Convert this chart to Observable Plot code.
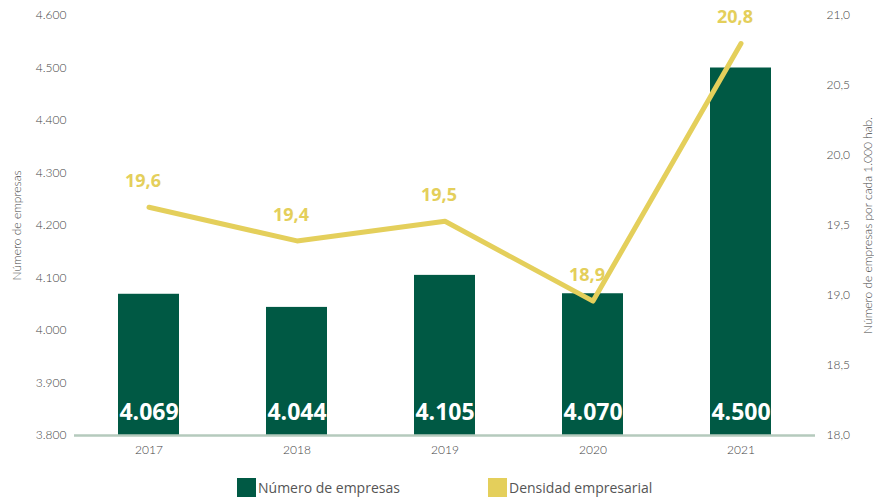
<!DOCTYPE html>
<html>
<head>
<meta charset="utf-8">
<script src="https://cdn.jsdelivr.net/npm/d3@7"></script>
<script src="https://cdn.jsdelivr.net/npm/@observablehq/plot@0.6"></script>
<style>
  html, body { margin: 0; padding: 0; background: #fff; }
  #wrap { position: relative; width: 874px; height: 498px; }
  .legend { position: absolute; top: 478px; left: 0; width: 874px; height: 20px; font-family: "Open Sans", sans-serif; font-size: 14px; color: #555; }
  .item { position: absolute; display: flex; align-items: center; }
  .sw { width: 19px; height: 19px; margin-right: 2px; }
</style>
</head>
<body>
<div id="wrap">
  <div id="chart"></div>
  <div class="legend">
    <div class="item" style="left:237px; top:0px"><div class="sw" style="background:#005944"></div><span>Número de empresas</span></div>
    <div class="item" style="left:488px; top:0px"><div class="sw" style="background:#e4cf5b"></div><span>Densidad empresarial</span></div>
  </div>
</div>
<script>
const years = ["2017", "2018", "2019", "2020", "2021"];
const empresas = [4069, 4044, 4105, 4070, 4500];
const empresasLabels = ["4.069", "4.044", "4.105", "4.070", "4.500"];
const densidad = [19.63, 19.39, 19.53, 18.96, 20.8];
const densidadLabels = ["19,6", "19,4", "19,5", "18,9", "20,8"];
const leftTicks = [3800, 3900, 4000, 4100, 4200, 4300, 4400, 4500, 4600];
const rightTicks = [18.0, 18.5, 19.0, 19.5, 20.0, 20.5, 21.0];

const toLeft = d3.scaleLinear([18, 21], [3800, 4600]);
const data = years.map((y, i) => ({
  year: y, empresas: empresas[i], elabel: empresasLabels[i],
  dens: toLeft(densidad[i]), dlabel: densidadLabels[i]
}));

const fmtLeft = d => d3.format(",")(d).replace(/,/g, ".");
const fmtRight = d => d3.format(".1f")(toLeft.invert(d)).replace(".", ",");

const FONT = "Lato, 'Open Sans', sans-serif";

const chart = Plot.plot({
  width: 874,
  height: 462,
  marginTop: 15,
  marginBottom: 27,
  marginLeft: 74,
  marginRight: 59,
  style: { fontFamily: FONT, fontSize: "12px", color: "#555", background: "#fff" },
  x: { domain: years, paddingInner: 0.589, paddingOuter: 0.2945, axis: null },
  y: { domain: [3800, 4600], axis: null },
  marks: [
    Plot.barY(data, { x: "year", y1: 3800, y2: "empresas", fill: "#005944" }),
    Plot.ruleY([3800], { stroke: "#b5cabd", strokeWidth: 2.5 }),
    Plot.line(data, { x: "year", y: "dens", stroke: "#e4cf5b", strokeWidth: 5, strokeLinecap: "round", strokeLinejoin: "round" }),
    Plot.text(data, { x: "year", y: 3800, text: "elabel", dy: -23, fill: "#fff", fontSize: 23, fontWeight: "bold", fontFamily: "'Open Sans', sans-serif" }),
    Plot.text(data, { x: "year", y: "dens", text: "dlabel", dx: -6, dy: -26, fill: "#e4cf5b", fontSize: 18, fontWeight: "bold", fontFamily: "'Open Sans', sans-serif" }),
    Plot.axisX({ tickSize: 0, tickPadding: 10, label: null, fill: "#444", fontWeight: 300 }),
    Plot.axisY(leftTicks, { anchor: "left", tickSize: 0, tickPadding: 8, tickFormat: fmtLeft, fill: "#444", fontWeight: 300,
      label: "Número de empresas", labelAnchor: "center", labelArrow: "none", labelOffset: 62 }),
    Plot.axisY(rightTicks.map(toLeft), { anchor: "right", tickSize: 0, tickPadding: 11, tickFormat: fmtRight, fill: "#444", fontWeight: 300,
      label: "Número de empresas por cada 1.000 hab.", labelAnchor: "center", labelArrow: "none", labelOffset: 56 })
  ]
});
document.getElementById("chart").appendChild(chart);
</script>
</body>
</html>
